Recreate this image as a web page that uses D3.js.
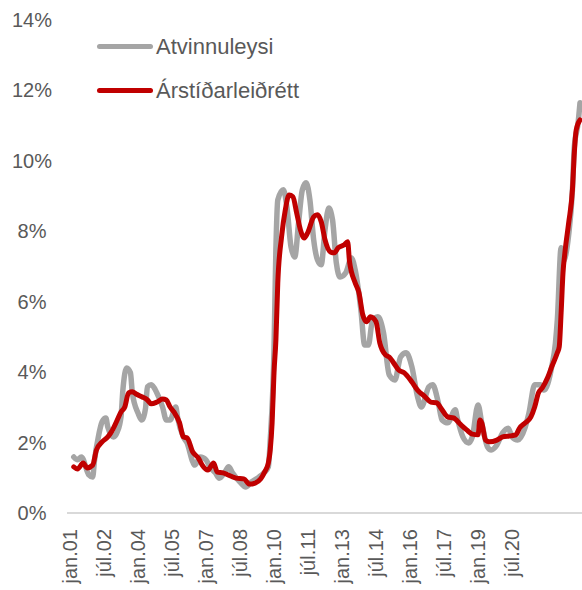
<!DOCTYPE html>
<html>
  <head>
    <meta charset="utf-8">
    <title>Atvinnuleysi</title>
    <script src="https://d3js.org/d3.v7.min.js"></script>
    <style>
      body { margin: 0; background: #fff; }
      text { font-family: "Liberation Sans", Arial, sans-serif; fill: #595959; }
    </style>
  </head>
  <body>
    <svg width="582" height="590"></svg>

    <script>
      // month index since jan.01, value in %
      var tickMonths = [0, 18, 36, 54, 72, 90, 108, 126, 144, 162, 180, 198, 216, 234];
      var tickLabels = ["jan.01", "júl.02", "jan.04", "júl.05", "jan.07", "júl.08", "jan.10",
                        "júl.11", "jan.13", "júl.14", "jan.16", "júl.17", "jan.19", "júl.20"];
      var yTicks = [0, 2, 4, 6, 8, 10, 12, 14];

      var grayMonths = [2, 4, 6, 10, 12, 13, 15, 17, 19, 20, 23, 25, 27, 28, 30, 32, 33, 36, 38, 40,
        41, 43, 46, 49, 51, 53, 56, 57, 60, 62, 65, 66, 69, 72, 74, 77, 79, 82, 84, 86, 90, 93, 96,
        100, 103, 105, 106, 108, 109, 110, 113, 115, 117, 119, 121, 123, 125, 127, 129, 131, 133,
        135, 137, 139, 141, 143, 146, 149, 151, 154, 156, 158, 160, 163, 166, 169, 172, 175, 178,
        181, 184, 186, 190, 192, 195, 197, 200, 204, 205, 208, 211, 213, 216, 218, 221, 223, 226,
        229, 232, 234, 237, 241, 243, 246, 249, 251, 255, 257, 258, 260, 261, 264, 266, 267, 269, 270];
      var grayValues = [1.59, 1.51, 1.59, 1.08, 1.02, 1.51, 2.16, 2.59, 2.70, 2.44, 2.16, 2.30, 2.73,
        3.49, 4.12, 3.98, 3.41, 2.84, 2.64, 2.98, 3.58, 3.64, 3.41, 3.01, 2.64, 2.64, 3.01, 2.70,
        2.16, 1.99, 1.45, 1.36, 1.59, 1.51, 1.31, 1.14, 0.99, 1.16, 1.31, 1.14, 0.88, 0.74, 0.88,
        1.02, 1.16, 1.31, 2.07, 4.63, 7.47, 8.89, 9.18, 8.61, 7.56, 7.27, 8.24, 9.18, 9.38, 8.89,
        7.76, 7.19, 7.05, 8.04, 8.66, 8.32, 7.10, 6.70, 6.82, 7.24, 6.90, 5.77, 4.77, 4.77, 5.43,
        5.57, 5.11, 3.92, 3.78, 4.43, 4.55, 4.15, 3.30, 3.01, 3.58, 3.64, 3.13, 2.64, 2.56, 2.93,
        2.70, 2.16, 1.99, 2.16, 3.07, 2.56, 1.88, 1.79, 1.93, 2.27, 2.41, 2.16, 2.07, 2.44, 2.84,
        3.64, 3.64, 3.49, 4.15, 4.83, 5.48, 7.53, 7.13, 7.90, 9.18, 10.40, 11.08, 11.65];

      var redMonths = [2, 4, 7, 9, 12, 14, 17, 20, 22, 25, 27, 29, 31, 33, 35, 38, 41, 43, 46, 49,
        51, 53, 55, 58, 60, 62, 65, 68, 70, 73, 76, 78, 81, 85, 88, 92, 95, 98, 101, 103, 105, 106,
        107, 108, 109, 110, 112, 114, 116, 118, 120, 122, 124, 126, 129, 131, 133, 135, 138, 140,
        142, 145, 147, 148, 151, 153, 155, 157, 159, 162, 164, 167, 169, 171, 174, 177, 181, 184,
        188, 191, 194, 197, 200, 203, 207, 210, 213, 216, 217, 218, 220, 222, 226, 229, 233, 236,
        238, 241, 244, 246, 248, 250, 253, 255, 258, 259, 260, 261, 262, 264, 266, 267, 268, 270];
      var redValues = [1.31, 1.25, 1.42, 1.28, 1.36, 1.79, 2.02, 2.16, 2.31, 2.64, 2.87, 3.01, 3.41,
        3.44, 3.38, 3.30, 3.21, 3.10, 3.15, 3.24, 3.21, 3.01, 2.87, 2.56, 2.16, 2.13, 1.73, 1.56,
        1.36, 1.22, 1.42, 1.16, 1.14, 1.05, 0.99, 0.97, 0.82, 0.85, 0.97, 1.16, 1.42, 1.79, 2.56,
        3.98, 4.91, 6.53, 7.84, 8.61, 9.03, 8.98, 8.52, 8.04, 7.81, 7.98, 8.41, 8.47, 8.27, 7.76,
        7.41, 7.39, 7.53, 7.61, 7.70, 7.13, 6.53, 6.25, 5.63, 5.43, 5.57, 5.43, 4.83, 4.49, 4.43,
        4.29, 4.06, 3.98, 3.72, 3.49, 3.30, 3.15, 3.13, 2.93, 2.73, 2.70, 2.50, 2.36, 2.24, 2.22,
        2.64, 2.56, 2.07, 2.02, 2.07, 2.16, 2.19, 2.22, 2.41, 2.56, 2.73, 3.01, 3.41, 3.55, 3.86,
        4.15, 4.55, 4.72, 5.68, 6.82, 7.39, 8.24, 9.18, 10.23, 10.88, 11.16];

      var svg = d3.select("svg");

      var x = d3.scaleLinear().domain([0, 234]).range([70, 512]);
      var y = d3.scaleLinear().domain([0, 14]).range([513, 20]);

      // y labels (no axis line)
      svg.append("g").selectAll("text")
        .data(yTicks)
        .enter().append("text")
        .attr("x", 32)
        .attr("y", function(d) { return y(d); })
        .attr("dy", "0.35em")
        .attr("text-anchor", "middle")
        .style("font-size", "20px")
        .text(function(d) { return d + "%"; });

      // x axis line
      svg.append("line")
        .attr("x1", 67).attr("x2", 582)
        .attr("y1", y(0)).attr("y2", y(0))
        .attr("stroke", "#d9d9d9")
        .attr("stroke-width", 2);

      // x labels, rotated
      svg.append("g").selectAll("text")
        .data(tickMonths)
        .enter().append("text")
        .attr("transform", function(d) { return "translate(" + x(d) + ",529) rotate(-90)"; })
        .attr("dy", "0.35em")
        .attr("text-anchor", "end")
        .style("font-size", "20px")
        .text(function(d, i) { return tickLabels[i]; });

      var line = d3.line()
        .x(function(d) { return x(d[0]); })
        .y(function(d) { return y(d[1]); })
        .curve(d3.curveMonotoneX);

      svg.append("path")
        .datum(d3.zip(grayMonths, grayValues))
        .attr("d", line)
        .attr("fill", "none")
        .attr("stroke", "#a5a5a5")
        .attr("stroke-width", 5.5)
        .attr("stroke-linejoin", "round")
        .attr("stroke-linecap", "round");

      svg.append("path")
        .datum(d3.zip(redMonths, redValues))
        .attr("d", line)
        .attr("fill", "none")
        .attr("stroke", "#c00000")
        .attr("stroke-width", 5)
        .attr("stroke-linejoin", "round")
        .attr("stroke-linecap", "round");

      // legend
      var legend = [
        { name: "Atvinnuleysi", color: "#a5a5a5", y: 46.5 },
        { name: "Árstíðarleiðrétt", color: "#c00000", y: 90.5 }
      ];
      var lg = svg.append("g").selectAll("g")
        .data(legend)
        .enter().append("g");
      lg.append("line")
        .attr("x1", 99.5).attr("x2", 150.5)
        .attr("y1", function(d) { return d.y; })
        .attr("y2", function(d) { return d.y; })
        .attr("stroke", function(d) { return d.color; })
        .attr("stroke-width", 5)
        .attr("stroke-linecap", "round");
      lg.append("text")
        .attr("x", 156)
        .attr("y", function(d) { return d.y; })
        .attr("dy", "0.35em")
        .style("font-size", "22px")
        .text(function(d) { return d.name; });
    </script>
  </body>
</html>
